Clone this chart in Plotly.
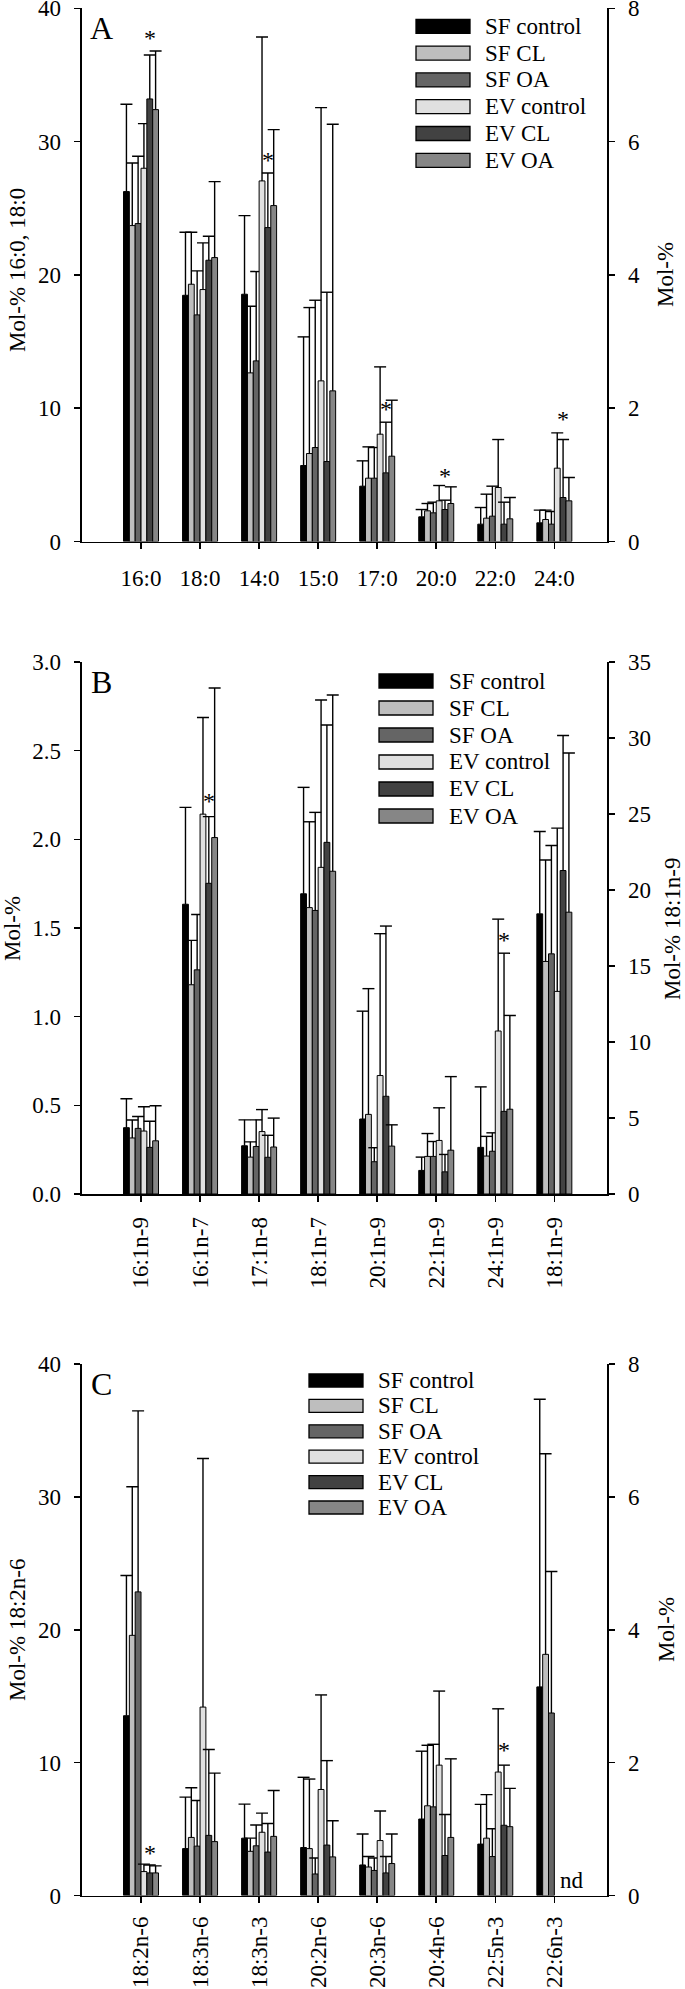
import plotly.graph_objects as go

# ---------------- data ----------------
SERIES = ["SF control", "SF CL", "SF OA", "EV control", "EV CL", "EV OA"]

# Panel A  (16:0 and 18:0 against the left axis, the rest against the right axis)
A_CATEGORIES = ["16:0", "18:0", "14:0", "15:0", "17:0", "20:0", "22:0", "24:0"]
A_LEFT_AXIS = ["16:0", "18:0"]
A_SF_CONTROL = [26.25, 18.47, 3.71, 1.14, 0.83, 0.37, 0.26, 0.28]
A_SF_CONTROL_SD = [6.55, 4.73, 1.18, 1.93, 0.38, 0.11, 0.25, 0.19]
A_SF_CL = [23.7, 19.3, 2.53, 1.32, 0.95, 0.46, 0.35, 0.33]
A_SF_CL_SD = [4.7, 3.9, 1.00, 2.19, 0.47, 0.11, 0.36, 0.14]
A_SF_OA = [23.85, 17.0, 2.71, 1.41, 0.95, 0.43, 0.38, 0.26]
A_SF_OA_SD = [5.05, 3.3, 1.34, 2.21, 0.46, 0.16, 0.45, 0.19]
A_EV_CONTROL = [28.0, 18.9, 5.41, 2.41, 1.61, 0.61, 0.81, 1.10]
A_EV_CONTROL_SD = [3.35, 3.5, 2.16, 4.10, 1.01, 0.23, 0.72, 0.53]
A_EV_CL = [33.2, 21.1, 4.71, 1.20, 1.03, 0.48, 0.26, 0.66]
A_EV_CL_SD = [3.3, 1.8, 0.82, 2.54, 0.76, 0.14, 0.33, 0.87]
A_EV_OA = [32.4, 21.3, 5.04, 2.26, 1.28, 0.57, 0.34, 0.61]
A_EV_OA_SD = [4.4, 5.7, 1.14, 4.00, 0.84, 0.25, 0.32, 0.35]
A_STARS = ["16:0", "14:0", "17:0", "20:0", "24:0"]
A_STAR_Y = [38.1, 5.79, 2.05, 1.05, 1.90]

# Panel B  (18:1n-9 against the right axis)
B_CATEGORIES = ["16:1n-9", "16:1n-7", "17:1n-8", "18:1n-7", "20:1n-9", "22:1n-9", "24:1n-9", "18:1n-9"]
B_RIGHT_AXIS = ["18:1n-9"]
B_SF_CONTROL = [0.374, 1.634, 0.272, 1.693, 0.423, 0.133, 0.263, 18.43]
B_SF_CONTROL_SD = [0.163, 0.546, 0.146, 0.600, 0.608, 0.075, 0.341, 5.42]
B_SF_CL = [0.316, 1.18, 0.208, 1.615, 0.449, 0.212, 0.214, 15.30]
B_SF_CL_SD = [0.101, 0.25, 0.086, 0.484, 0.709, 0.129, 0.111, 6.67]
B_SF_OA = [0.370, 1.264, 0.268, 1.599, 0.182, 0.212, 0.241, 15.80]
B_SF_OA_SD = [0.067, 0.312, 0.150, 0.553, 0.079, 0.084, 0.104, 7.13]
B_EV_CONTROL = [0.355, 2.142, 0.352, 1.842, 0.668, 0.302, 0.919, 13.33]
B_EV_CONTROL_SD = [0.137, 0.545, 0.124, 0.944, 0.800, 0.184, 0.631, 10.74]
B_EV_CL = [0.263, 1.752, 0.207, 1.983, 0.551, 0.125, 0.466, 21.28]
B_EV_CL_SD = [0.147, 0.376, 0.124, 0.662, 0.960, 0.098, 0.892, 8.88]
B_EV_OA = [0.300, 2.01, 0.265, 1.820, 0.270, 0.247, 0.478, 18.54]
B_EV_OA_SD = [0.198, 0.843, 0.163, 0.994, 0.120, 0.415, 0.529, 10.47]
B_STARS = ["16:1n-7", "24:1n-9"]
B_STAR_Y = [2.236, 1.456]

# Panel C  (18:2n-6 against the left axis; None = not detected)
C_CATEGORIES = ["18:2n-6", "18:3n-6", "18:3n-3", "20:2n-6", "20:3n-6", "20:4n-6", "22:5n-3", "22:6n-3"]
C_LEFT_AXIS = ["18:2n-6"]
C_SF_CONTROL = [13.53, 0.706, 0.863, 0.722, 0.460, 1.151, 0.774, 3.14]
C_SF_CONTROL_SD = [10.55, 0.775, 0.513, 1.057, 0.466, 1.021, 0.597, 4.33]
C_SF_CL = [19.58, 0.874, 0.665, 0.706, 0.429, 1.350, 0.863, 3.63]
C_SF_CL_SD = [11.18, 0.748, 0.198, 1.047, 0.157, 0.911, 0.655, 3.02]
C_SF_OA = [22.85, 0.743, 0.748, 0.324, 0.377, 1.334, 0.586, 2.747]
C_SF_OA_SD = [13.62, 0.686, 0.314, 0.241, 0.188, 0.942, 0.419, 2.13]
C_EV_CONTROL = [1.80, 2.836, 0.952, 1.596, 0.827, 1.962, 1.858, None]
C_EV_CONTROL_SD = [0.56, 3.742, 0.288, 1.423, 0.445, 1.115, 0.952, None]
C_EV_CL = [1.70, 0.905, 0.654, 0.759, 0.340, 0.602, 1.057, None]
C_EV_CL_SD = [0.60, 1.293, 0.429, 1.271, 0.246, 0.617, 0.905, None]
C_EV_OA = [1.70, 0.811, 0.890, 0.581, 0.481, 0.874, 1.036, None]
C_EV_OA_SD = [0.53, 1.031, 0.690, 0.544, 0.445, 1.183, 0.576, None]
C_STARS = ["18:2n-6", "22:5n-3"]
C_STAR_Y = [3.53, 2.25]
C_ND = "22:6n-3"

# ---------------- style / layout ----------------
W, H = 685, 1989
FONT = "Liberation Serif"
COLORS = ["#000000", "#bebebe", "#656565", "#e0e0e0", "#424242", "#868686"]
X_L, X_R = 81.5, 606.7
GROUP = 0.5927
BW = GROUP / 6
CAP = 0.1016
FS = 23


def px(x):
    return x / W


def py(y):
    return 1 - y / H


PANELS = [
    dict(letter="A", cats=A_CATEGORIES,
         left=lambda c: c in A_LEFT_AXIS,
         vals=[A_SF_CONTROL, A_SF_CL, A_SF_OA, A_EV_CONTROL, A_EV_CL, A_EV_OA],
         sds=[A_SF_CONTROL_SD, A_SF_CL_SD, A_SF_OA_SD, A_EV_CONTROL_SD, A_EV_CL_SD, A_EV_OA_SD],
         stars=A_STARS, star_y=A_STAR_Y,
         top=8.3, bottom=541.5, lrange=[0, 40], ldtick=10, lfmt="d", rrange=[0, 8], rdtick=2,
         ltitle="Mol-% 16:0, 18:0", rtitle="Mol-%", ltx=18, lty=270, rtx=666, rty=275,
         tickangle=0, xstand=9, leg=dict(x0=416, x1=470, yc=26.3, dy=26.8, h=14, tx=483)),
    dict(letter="B", cats=B_CATEGORIES,
         left=lambda c: c not in B_RIGHT_AXIS,
         vals=[B_SF_CONTROL, B_SF_CL, B_SF_OA, B_EV_CONTROL, B_EV_CL, B_EV_OA],
         sds=[B_SF_CONTROL_SD, B_SF_CL_SD, B_SF_OA_SD, B_EV_CONTROL_SD, B_EV_CL_SD, B_EV_OA_SD],
         stars=B_STARS, star_y=B_STAR_Y,
         top=662, bottom=1194, lrange=[0, 3], ldtick=0.5, lfmt=".1f", rrange=[0, 35], rdtick=5,
         ltitle="Mol-%", rtitle="Mol-% 18:1n-9", ltx=12, lty=929, rtx=672, rty=929,
         tickangle=-90, xstand=6, leg=dict(x0=379, x1=433, yc=681, dy=27, h=14, tx=447)),
    dict(letter="C", cats=C_CATEGORIES,
         left=lambda c: c in C_LEFT_AXIS,
         vals=[C_SF_CONTROL, C_SF_CL, C_SF_OA, C_EV_CONTROL, C_EV_CL, C_EV_OA],
         sds=[C_SF_CONTROL_SD, C_SF_CL_SD, C_SF_OA_SD, C_EV_CONTROL_SD, C_EV_CL_SD, C_EV_OA_SD],
         stars=C_STARS, star_y=C_STAR_Y,
         top=1364, bottom=1895.5, lrange=[0, 40], ldtick=10, lfmt="d", rrange=[0, 8], rdtick=2,
         ltitle="Mol-% 18:2n-6", rtitle="Mol-%", ltx=17, lty=1630, rtx=666, rty=1630,
         tickangle=-90, xstand=4, leg=dict(x0=309, x1=363, yc=1380.5, dy=25.4, h=13, tx=376)),
]

fig = go.Figure()
layout = dict(width=W, height=H, margin=dict(l=0, r=0, t=0, b=0, autoexpand=False),
              paper_bgcolor="white", plot_bgcolor="white", barmode="overlay",
              showlegend=False, font=dict(family=FONT, size=FS, color="black"))
annotations, shapes = [], []

axis_common = dict(showline=True, linecolor="black", linewidth=1.8, ticks="outside",
                   ticklen=6, tickwidth=1.5, tickcolor="black", showgrid=False,
                   zeroline=False, tickfont=dict(family=FONT, size=FS, color="black"),
                   fixedrange=True, ticklabeloverflow="allow")

for p_i, p in enumerate(PANELS):
    xn = "" if p_i == 0 else str(p_i + 1)
    yl_n = str(2 * p_i + 1) if p_i > 0 else ""
    yr_n = str(2 * p_i + 2)
    xa, yl, yr = "x" + xn, "y" + yl_n, "y" + yr_n
    cats = p["cats"]
    n = len(cats)

    layout["xaxis" + xn] = dict(axis_common, domain=[px(X_L), px(X_R)], anchor=yl,
                                range=[-1.008, 7.887], tickmode="array",
                                tickvals=list(range(n)), ticktext=cats,
                                tickangle=p["tickangle"], ticklabelstandoff=p["xstand"])
    layout["yaxis" + yl_n] = dict(axis_common, domain=[py(p["bottom"]), py(p["top"])],
                                  anchor=xa, range=p["lrange"], tickmode="array",
                                  tickvals=[p["ldtick"] * j
                                            for j in range(int(round(p["lrange"][1] / p["ldtick"])) + 1)],
                                  tickformat=p["lfmt"], ticklabelstandoff=8)
    layout["yaxis" + yr_n] = dict(axis_common, overlaying=yl, side="right", anchor=xa,
                                  range=p["rrange"], tickmode="array",
                                  tickvals=[p["rdtick"] * j
                                            for j in range(int(round(p["rrange"][1] / p["rdtick"])) + 1)],
                                  ticklabelstandoff=9)

    for k, name in enumerate(SERIES):
        vals, sds = p["vals"][k], p["sds"][k]
        for is_left, yref in ((True, yl), (False, yr)):
            idx = [i for i, c in enumerate(cats)
                   if p["left"](c) == is_left and vals[i] is not None]
            if not idx:
                continue
            fig.add_trace(go.Bar(
                x=idx, y=[vals[i] for i in idx], width=BW,
                offset=-GROUP / 2 + k * BW, xaxis=xa, yaxis=yref, name=name,
                marker=dict(color=COLORS[k], line=dict(color="black", width=1)),
                showlegend=False))
            ex, ey = [], []
            for i in idx:
                xc = i - GROUP / 2 + (k + 0.5) * BW
                top = vals[i] + sds[i]
                ex += [xc, xc, None]
                ey += [vals[i], top, None]
                right = xc + CAP
                if k + 1 < len(SERIES):
                    nv = p["vals"][k + 1][i]
                    if nv is not None and nv >= top:
                        right = xc + BW / 2
                ex += [xc - CAP, right, None]
                ey += [top, top, None]
            fig.add_trace(go.Scatter(x=ex, y=ey, mode="lines", xaxis=xa, yaxis=yref,
                                     line=dict(color="black", width=1.4),
                                     hoverinfo="skip", showlegend=False))

    # significance stars (above the EV CL bar)
    for c, yv in zip(p["stars"], p["star_y"]):
        i = cats.index(c)
        annotations.append(dict(x=i - GROUP / 2 + 4.5 * BW, y=yv, xref=xa,
                                yref=yl if p["left"](c) else yr, text="*", showarrow=False,
                                font=dict(family=FONT, size=FS + 1), yshift=-4))

    # panel letter
    annotations.append(dict(x=px(101.5), y=py((p["top"] + 20)), xref="paper", yref="paper",
                            text=p["letter"], showarrow=False,
                            font=dict(family=FONT, size=32), xanchor="center", yanchor="middle"))
    # axis titles
    annotations.append(dict(x=px(p["ltx"]), y=py(p["lty"]), xref="paper", yref="paper",
                            text=p["ltitle"], textangle=-90, showarrow=False,
                            font=dict(family=FONT, size=FS), xanchor="center", yanchor="middle"))
    annotations.append(dict(x=px(p["rtx"]), y=py(p["rty"]), xref="paper", yref="paper",
                            text=p["rtitle"], textangle=-90, showarrow=False,
                            font=dict(family=FONT, size=FS), xanchor="center", yanchor="middle"))
    # legend
    lg = p["leg"]
    for k, name in enumerate(SERIES):
        yc = lg["yc"] + k * lg["dy"]
        shapes.append(dict(type="rect", xref="paper", yref="paper",
                           x0=px(lg["x0"]), x1=px(lg["x1"]),
                           y0=py(yc + lg["h"] / 2), y1=py(yc - lg["h"] / 2),
                           fillcolor=COLORS[k], line=dict(color="black", width=1.3)))
        annotations.append(dict(x=px(lg["tx"]), y=py(yc), xref="paper", yref="paper",
                                text=name, showarrow=False, xanchor="left", yanchor="middle",
                                font=dict(family=FONT, size=FS)))

# "nd" label for the missing EV bars in panel C
annotations.append(dict(x=C_CATEGORIES.index(C_ND) + 0.303, y=0.22, xref="x3", yref="y6",
                        text="nd", showarrow=False, font=dict(family=FONT, size=FS)))

layout["annotations"] = annotations
layout["shapes"] = shapes
fig.update_layout(**layout)
fig.write_html("out.html",
               config={"displayModeBar": False, "staticPlot": True},
               post_script="document.body.style.margin='0px';"
                           "document.body.style.overflow='hidden';")
